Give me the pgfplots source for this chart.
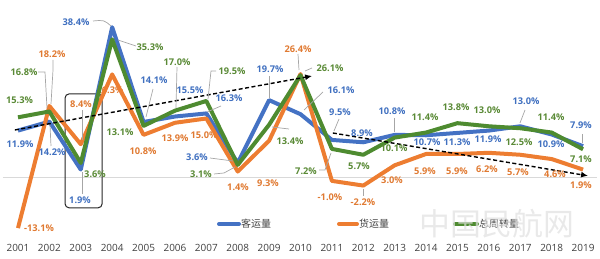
\documentclass[border=0pt]{standalone}
\usepackage{pgfplots}
\pgfplotsset{compat=1.18}
\usepackage{fontspec}
\setmainfont{Open Sans}
\newfontfamily\cjk{Noto Sans CJK SC}
\usetikzlibrary{arrows.meta}
\definecolor{cblue}{HTML}{4472C4}
\definecolor{corange}{HTML}{ED7D31}
\definecolor{cgreen}{HTML}{4E8B30}
\definecolor{tblue}{HTML}{4070C0}
\definecolor{torange}{HTML}{E07A32}
\definecolor{tgreen}{HTML}{5A8A36}
\definecolor{tickgray}{HTML}{404040}
\definecolor{leader}{HTML}{A6A6A6}
\definecolor{zerogray}{HTML}{D9D9D9}
\begin{document}
\begin{tikzpicture}[
  lab/.style={inner sep=0pt, font=\bfseries\fontsize{9.3}{11}\selectfont},
  lb/.style={lab, text=tblue},
  lo/.style={lab, text=torange},
  lg/.style={lab, text=tgreen},
  ld/.style={draw=leader, line width=0.7bp},
]
% labels that sit under the lines
\begin{scope}[x=1bp,y=-1bp,shift={(0,236bp)}]
\node[lo] at (110,90) {26.3\%};
\node[lo] at (204,135) {15.0\%};
\end{scope}
\begin{axis}[
  scale only axis, width=600bp, height=236bp,
  xmin=2000.427, xmax=2019.54, ymin=-15.13, ymax=45.38,
  axis line style={draw=none}, tick style={draw=none},
  ytick=\empty,
  xtick={2001,2002,2003,2004,2005,2006,2007,2008,2009,2010,2011,2012,2013,2014,2015,2016,2017,2018,2019},
  xticklabels={2001,2002,2003,2004,2005,2006,2007,2008,2009,2010,2011,2012,2013,2014,2015,2016,2017,2018,2019},
  xticklabel style={anchor=center, yshift=-12bp, font=\fontsize{10}{12}\selectfont, text=tickgray},
  clip=false,
]
\draw[zerogray, line width=0.8bp] (axis cs:2000.52,0) -- (axis cs:2019.45,0);
\draw[black!85, line width=1bp, rounded corners=4bp] (axis cs:2002.50,21.3) rectangle (axis cs:2003.68,-7.9);
% 客运量
\addplot[cblue, line width=4bp, line join=round] coordinates {
(2001,11.9)(2002,14.2)(2003,1.9)(2004,38.4)(2005,14.1)(2006,15.5)(2007,16.3)(2008,3.6)(2009,19.7)(2010,16.1)
(2011,9.5)(2012,8.9)(2013,10.8)(2014,10.7)(2015,11.3)(2016,11.9)(2017,13.0)(2018,10.9)(2019,7.9)};
% 货运量
\addplot[corange, line width=4bp, line join=round] coordinates {
(2001,-13.1)(2002,18.2)(2003,8.4)(2004,26.3)(2005,10.8)(2006,13.9)(2007,15.0)(2008,1.4)(2009,9.3)(2010,26.4)
(2011,-1.0)(2012,-2.2)(2013,3.0)(2014,5.9)(2015,5.9)(2016,6.2)(2017,5.7)(2018,4.6)(2019,1.9)};
% 总周转量
\addplot[cgreen, line width=4bp, line join=round] coordinates {
(2001,15.3)(2002,16.8)(2003,3.6)(2004,35.3)(2005,13.1)(2006,17.0)(2007,19.5)(2008,3.1)(2009,13.4)(2010,26.1)
(2011,7.2)(2012,5.7)(2013,10.1)(2014,11.4)(2015,13.8)(2016,13.0)(2017,12.5)(2018,11.4)(2019,7.1)};
% trend arrows
\addplot[black, line width=1.4bp, dash pattern=on 4bp off 2.5bp, -{Latex[length=7bp,width=6bp]}] coordinates {(2000.90,12.05)(2010.37,25.9)};
\addplot[black, line width=1.4bp, dash pattern=on 4bp off 2.5bp, -{Latex[length=7bp,width=6bp]}] coordinates {(2011.03,11.28)(2019.16,0.3)};
\end{axis}
\begin{scope}[x=1bp,y=-1bp,shift={(0,236bp)}]
% leader lines
\draw[ld] (93,21) .. controls (104,20) .. (111,26);
\draw[ld] (136,46) -- (118,40);
\draw[ld] (53,60) -- (53,70) -- (51,104);
\draw[ld] (38,72) -- (45,72) -- (47,108);
\draw[ld] (51,146) -- (50,125);
\draw[ld] (82,110) -- (82,140);
\draw[ld] (82,194) -- (82,172);
\draw[ld] (153,89) -- (146,117);
\draw[ld] (177,67) -- (176,108);
\draw[ld] (216,71) -- (211,71) -- (208,99);
\draw[ld] (207,112) -- (221,106);
\draw[ld] (210,158) -- (233,161);
\draw[ld] (214,174) -- (224,173) -- (235,167);
\draw[ld] (269,76) -- (269,98);
\draw[ld] (272,127) -- (289,129);
\draw[ld] (298,54) -- (299,70);
\draw[ld] (305,71) -- (312,68);
\draw[ld] (323,92) -- (304,110);
\draw[ld] (339,119) -- (334,131);
\draw[ld] (319,170) -- (325,170) -- (331,153);
\draw[ld] (363,189) -- (363,196);
\draw[ld] (394,118) -- (394,132);
\draw[ld] (525,110) -- (520,123);
\draw[ld] (582,134) -- (582,143);
% labels
\node[lb] at (76,22) {38.4\%};
\node[lg] at (150,47) {35.3\%};
\node[lo] at (52,54) {18.2\%};
\node[lg] at (24,72) {16.8\%};
\node[lg] at (19.5,100) {15.3\%};
\node[lb] at (20,144) {11.9\%};
\node[lb] at (52,152) {14.2\%};
\node[lo] at (81,104) {8.4\%};
\node[lg] at (95,174) {3.6\%};
\node[lb] at (80,200) {1.9\%};
\node[lo] at (39,228) {-13.1\%};
\node[lb] at (154,80) {14.1\%};
\node[lg] at (120,132) {13.1\%};
\node[lo] at (143,151) {10.8\%};
\node[lg] at (177,62) {17.0\%};
\node[lb] at (190,90) {15.5\%};
\node[lo] at (175,138) {13.9\%};
\node[lb] at (197,157) {3.6\%};
\node[lg] at (201,174) {3.1\%};
\node[lg] at (232,71) {19.5\%};
\node[lb] at (229,98) {16.3\%};
\node[lo] at (238,187) {1.4\%};
\node[lb] at (270,69) {19.7\%};
\node[lo] at (268,183) {9.3\%};
\node[lg] at (290,141) {13.4\%};
\node[lo] at (298,49) {26.4\%};
\node[lg] at (330,68) {26.1\%};
\node[lb] at (341,90) {16.1\%};
\node[lg] at (306,171) {7.2\%};
\node[lb] at (340,112) {9.5\%};
\node[lo] at (330,197) {-1.0\%};
\node[lb] at (362,133) {8.9\%};
\node[lg] at (359,166) {5.7\%};
\node[lo] at (363,202) {-2.2\%};
\node[lb] at (392,111) {10.8\%};
\node[lg] at (394,148) {10.1\%};
\node[lo] at (392,180) {3.0\%};
\node[lg] at (425,117) {11.4\%};
\node[lb] at (427,142) {10.7\%};
\node[lo] at (425,171) {5.9\%};
\node[lg] at (456,107) {13.8\%};
\node[lb] at (457,142) {11.3\%};
\node[lo] at (457,171) {5.9\%};
\node[lg] at (487,110) {13.0\%};
\node[lb] at (488,139) {11.9\%};
\node[lo] at (487,169) {6.2\%};
\node[lb] at (526,101) {13.0\%};
\node[lg] at (519,142) {12.5\%};
\node[lo] at (518,172) {5.7\%};
\node[lg] at (551,117) {11.4\%};
\node[lb] at (551,144) {10.9\%};
\node[lo] at (555,174) {4.6\%};
\node[lb] at (581,125) {7.9\%};
\node[lg] at (581,159) {7.1\%};
\node[lo] at (581,185) {1.9\%};
% legend
\draw[cblue, line width=4bp, line cap=round] (219,224) -- (239,224);
\node[anchor=west, inner sep=0pt, text=tickgray, font=\cjk\fontsize{10}{12}\selectfont] at (241,224) {客运量};
\draw[corange, line width=4bp, line cap=round] (339,224) -- (357,224);
\node[anchor=west, inner sep=0pt, text=tickgray, font=\cjk\fontsize{10}{12}\selectfont] at (359,224) {货运量};
\draw[cgreen, line width=4bp, line cap=round] (455,224) -- (477,224);
\node[anchor=west, inner sep=0pt, text=tickgray, font=\cjk\fontsize{10}{12}\selectfont] at (479,224) {总周转量};
% watermark
\node[text=black!12, opacity=0.7, font=\cjk\fontsize{31}{34}\selectfont, inner sep=0pt] at (497,224) {中国民航网};
\end{scope}
\pgfresetboundingbox
\useasboundingbox (0,-23bp) rectangle (600bp,236bp);
\end{tikzpicture}
\end{document}
